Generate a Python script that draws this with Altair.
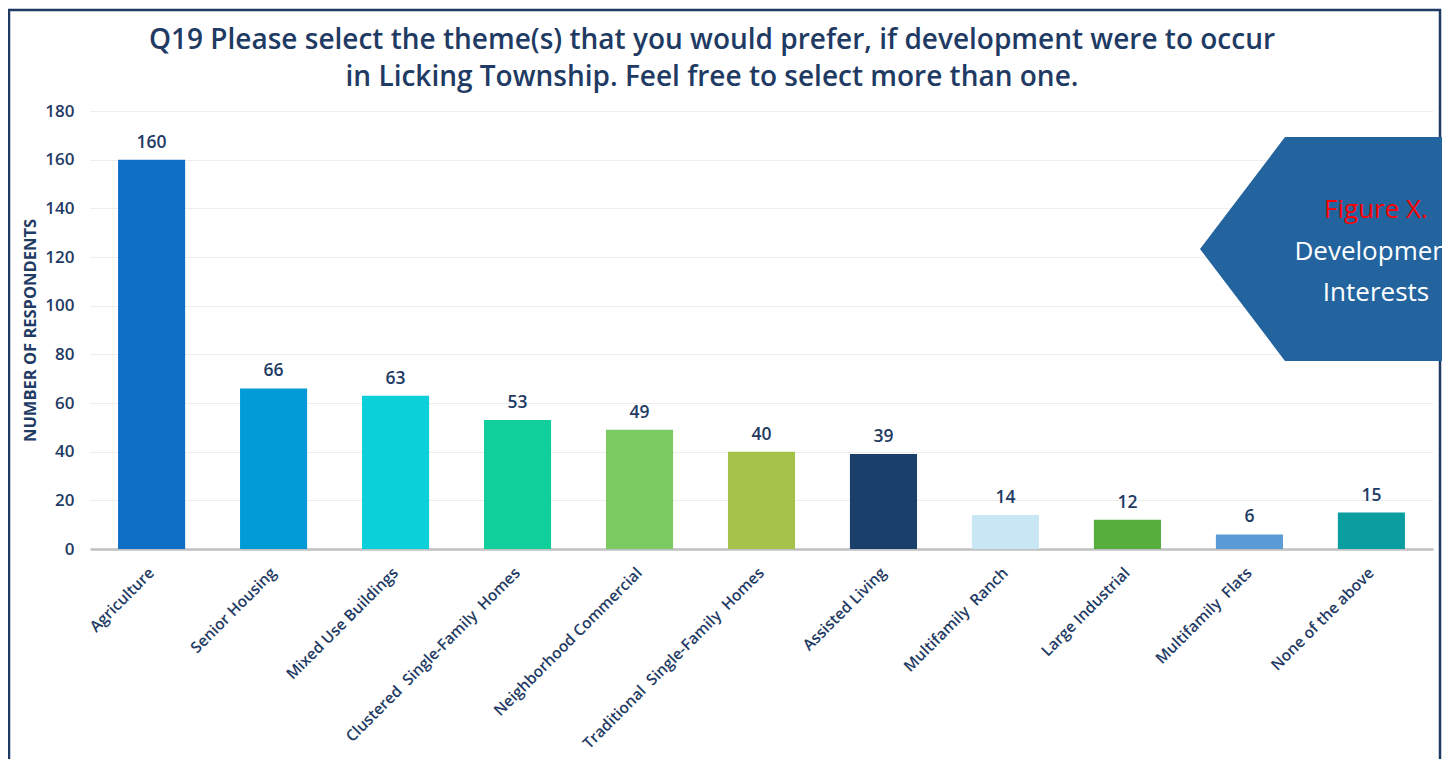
import altair as alt
import pandas as pd

# ---- data ----
categories = [
    "Agriculture",
    "Senior Housing",
    "Mixed Use Buildings",
    "Clustered\u00a0 Single-Family\u00a0 Homes",
    "Neighborhood Commercial",
    "Traditional\u00a0 Single-Family\u00a0 Homes",
    "Assisted Living",
    "Multifamily\u00a0 Ranch",
    "Large Industrial",
    "Multifamily\u00a0 Flats",
    "None of the above",
]
respondents = [160, 66, 63, 53, 49, 40, 39, 14, 12, 6, 15]
bar_colors = ["#0F6FC6", "#039BD7", "#0BD0D9", "#10CF9B", "#7CCA62", "#A5C249",
              "#1A3F6B", "#C8E6F4", "#57AE3C", "#5B9BD5", "#0A9EA0"]
y_ticks = [0, 20, 40, 60, 80, 100, 120, 140, 160, 180]
title_lines = [
    "Q19 Please select the theme(s) that you would prefer, if development were to occur",
    "in Licking Township. Feel free to select more than one.",
]
callout_lines = ["Figure X.", "Development", "Interests"]
callout_colors = ["#FF0000", "#FFFFFF", "#FFFFFF"]

NAVY = "#1F3B64"
FONT = "Open Sans"

df = pd.DataFrame({"theme": categories, "count": respondents})

W, H = 1343, 438

x_enc = alt.X(
    "theme:N",
    sort=None,
    scale=alt.Scale(paddingInner=0.45, paddingOuter=0.23),
    axis=alt.Axis(
        title=None, labelAngle=-45, labelAlign="right", labelBaseline="top",
        labelFontSize=15.5, labelFontWeight=600, labelColor=NAVY, labelFont=FONT,
        labelPadding=16, labelOffset=-5, ticks=False, domainColor="#C0C0C0",
        domainWidth=2.5, labelLimit=400,
    ),
)
y_enc = alt.Y(
    "count:Q",
    scale=alt.Scale(domain=[0, 180], nice=False),
    axis=alt.Axis(
        values=y_ticks, title="NUMBER OF RESPONDENTS", titleFont=FONT,
        titleFontSize=16.5, titleFontWeight=700, titleColor=NAVY,
        titleX=-60, titleY=H / 2, titleAngle=-90, titleAlign="center",
        titleBaseline="middle",
        labelFontSize=17, labelFontWeight=600, labelColor=NAVY, labelFont=FONT,
        labelPadding=16, ticks=False, domain=False,
        gridColor="#EDEDED", gridWidth=1,
    ),
)

bars = alt.Chart(df).mark_bar().encode(
    x=x_enc,
    y=y_enc,
    color=alt.Color("theme:N", scale=alt.Scale(domain=categories, range=bar_colors), legend=None),
)

labels = alt.Chart(df).mark_text(
    dy=-12, baseline="alphabetic", fontSize=17.5, fontWeight=600, color=NAVY, font=FONT
).encode(x=alt.X("theme:N", sort=None), y="count:Q", text="count:Q")

one = alt.Data(values=[{"k": 1}])

frame = alt.Chart(one).mark_rect(filled=False, stroke=NAVY, strokeWidth=2.5).encode(
    x=alt.value(-81), x2=alt.value(1350), y=alt.value(-101), y2=alt.value(700)
)

title_df = pd.DataFrame({"line": title_lines, "yy": [-62, -25]})
title_text = alt.Chart(title_df).mark_text(
    fontSize=28, fontWeight=600, font=FONT, color=NAVY, align="center", baseline="alphabetic"
).encode(x=alt.value(622), y=alt.Y("yy:Q", scale=None), text="line:N")

callout = alt.Chart(one).mark_point(
    shape="M-1,0L-0.3462,-0.8615L1,-0.8615L1,0.8615L-0.3462,0.8615Z",
    filled=True, opacity=1, color="#23649F", strokeWidth=0,
).encode(x=alt.value(1240), y=alt.value(138), size=alt.value(67600))

callout_df = pd.DataFrame({"line": callout_lines, "col": callout_colors, "yy": [99, 141, 182]})
callout_text = alt.Chart(callout_df).mark_text(
    fontSize=26, font=FONT, align="center", baseline="middle"
).encode(
    x=alt.value(1286),
    y=alt.Y("yy:Q", scale=None),
    text="line:N",
    color=alt.Color("col:N", scale=None),
)

chart = alt.layer(bars, labels, frame, title_text, callout, callout_text).properties(
    width=W,
    height=H,
    autosize=alt.AutoSizeParams(type="none"),
    padding={"left": 82, "top": 103, "right": 9, "bottom": 210},
    background="white",
).configure_view(stroke=None)

chart.save("out.html", embed_options={"renderer": "svg", "actions": False})
